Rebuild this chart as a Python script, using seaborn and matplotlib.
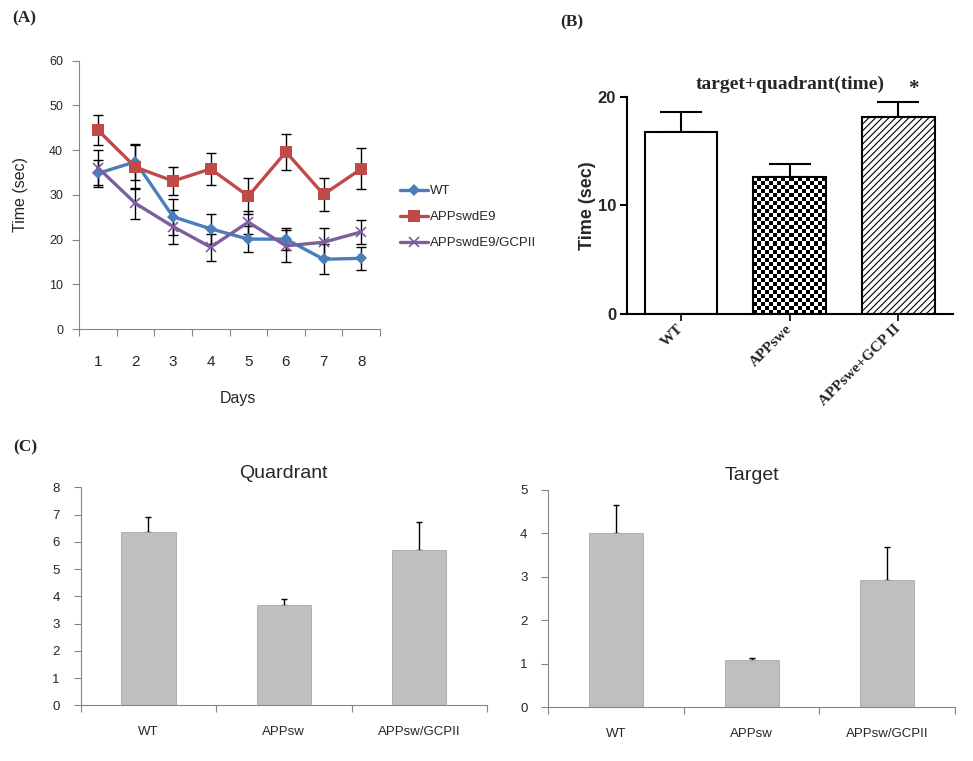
import numpy as np
import pandas as pd
import matplotlib
matplotlib.use("Agg")
import matplotlib.pyplot as plt
import seaborn as sns

# ---------------- data ----------------
days = [1, 2, 3, 4, 5, 6, 7, 8]
wt_mean = [34.8, 37.4, 25.1, 22.4, 20.1, 20.1, 15.6, 15.8]
wt_err = [3.1, 4.0, 4.0, 3.3, 2.9, 2.4, 3.4, 2.5]
app_mean = [44.5, 36.2, 33.1, 35.8, 29.7, 39.6, 30.1, 35.8]
app_err = [3.3, 5.0, 3.2, 3.5, 4.0, 4.1, 3.7, 4.6]
gcp_mean = [36.1, 28.1, 22.9, 18.3, 23.9, 18.6, 19.4, 21.7]
gcp_err = [3.9, 3.4, 3.8, 3.0, 2.6, 3.6, 3.2, 2.6]
groups_a = ["WT", "APPswdE9", "APPswdE9/GCPII"]

b_cats = ["WT", "APPswe", "APPswe+GCP II"]
b_mean = [16.8, 12.6, 18.2]
b_err = [1.8, 1.2, 1.3]

c_cats = ["WT", "APPsw", "APPsw/GCPII"]
quad_mean = [6.35, 3.68, 5.70]
quad_err = [0.55, 0.21, 1.03]
targ_mean = [4.00, 1.09, 2.92]
targ_err = [0.64, 0.05, 0.76]

# ---------------- style ----------------
sns.set_style("white")
plt.rcParams["font.family"] = ["Liberation Sans", "DejaVu Sans"]
plt.rcParams["hatch.linewidth"] = 0.8

W, H = 973, 761
fig = plt.figure(figsize=(W / 100, H / 100), dpi=100)


def px_axes(l, t, r, b):
    return fig.add_axes([l / W, 1 - b / H, (r - l) / W, (b - t) / H])


SERIF = ["Liberation Serif", "DejaVu Serif"]
GRAY = "#868686"

# ---------------- Panel A ----------------
axA = px_axes(79, 60.7, 380, 329)
series = [(groups_a[0], wt_mean, wt_err, "#4A7EBB", "D", 6, 0),
          (groups_a[1], app_mean, app_err, "#BE4B48", "s", 9, 0),
          (groups_a[2], gcp_mean, gcp_err, "#7D5FA0", "x", 7, 1.2)]
for name, m, e, col, mk, ms, mew in series:
    axA.errorbar(days, m, yerr=e, fmt="none", ecolor="black", elinewidth=1.0,
                 capsize=3.4, capthick=1.0, zorder=1)
for name, m, e, col, mk, ms, mew in series:
    df = pd.DataFrame({"day": days, "time": m})
    sns.lineplot(data=df, x="day", y="time", color=col, marker=mk,
                 markersize=ms, markeredgewidth=mew, markeredgecolor=col,
                 linewidth=2.4, label=name, ax=axA, zorder=2)
axA.set_xlim(0.5, 8.5)
axA.set_ylim(0, 60)
axA.set_yticks([0, 10, 20, 30, 40, 50, 60])
axA.set_xticks(days)
axA.set_xticklabels([str(d) for d in days])
axA.set_xticks(np.arange(0.5, 9.0, 1.0), minor=True)
axA.tick_params(axis="x", which="major", length=0, pad=19, labelsize=11)
axA.tick_params(axis="x", which="minor", length=5, width=0.8, color=GRAY,
                direction="out", bottom=True)
axA.tick_params(axis="y", length=5, width=0.8, color=GRAY, direction="out",
                pad=6.5, labelsize=9, left=True)
for s in ["top", "right"]:
    axA.spines[s].set_visible(False)
for s in ["left", "bottom"]:
    axA.spines[s].set_color(GRAY)
    axA.spines[s].set_linewidth(0.8)
axA.set_xlabel("Days", fontsize=11.5)
axA.xaxis.set_label_coords(0.528, -0.23)
axA.set_ylabel("Time (sec)", fontsize=11.5)
axA.yaxis.set_label_coords(-0.17, 0.5)
h, l = axA.get_legend_handles_labels()
axA.legend(h, l, loc="upper left", bbox_to_anchor=(400 / W, 1 - 185 / H),
           bbox_transform=fig.transFigure, frameon=False, fontsize=9.5,
           handlelength=2.1, handletextpad=0.15, labelspacing=1.05,
           borderpad=0, borderaxespad=0)

# ---------------- Panel B ----------------
axB = px_axes(626.7, 97, 952.7, 314)
axB.errorbar([0, 1, 2], b_mean, yerr=[[0, 0, 0], b_err], fmt="none",
             ecolor="black", elinewidth=1.5, capsize=15, capthick=1.5, zorder=1)
sns.barplot(x=b_cats, y=b_mean, order=b_cats, color="white", saturation=1,
            edgecolor="black", linewidth=1.5, width=0.67, errorbar=None,
            ax=axB, zorder=2)
axB.set_xlim(-0.5, 2.5)
axB.set_ylim(0, 20)
# diagonal hatch
axB.patches[2].set_hatch("/////")
# checkerboard on middle bar
pb = axB.patches[1]
fig.canvas.draw()
x0, w, hgt = pb.get_x(), pb.get_width(), pb.get_height()
p0 = axB.transData.transform((x0, 0))
p1 = axB.transData.transform((x0 + w, hgt))
nx = max(1, int(round((p1[0] - p0[0]) / 4.0)))
ny = max(1, int(round((p1[1] - p0[1]) / 4.0)))
checker = (np.add.outer(np.arange(ny), np.arange(nx)) % 2).astype(float)
pb.set_facecolor("none")
pb.set_zorder(3)
im = axB.imshow(checker, extent=[x0, x0 + w, 0, hgt], cmap="gray", vmin=0,
                vmax=1, interpolation="nearest", aspect="auto", zorder=2.5,
                origin="lower")
im.set_clip_path(pb)
axB.set_xlim(-0.5, 2.5)
axB.set_ylim(0, 20)
axB.set_yticks([0, 10, 20])
axB.set_yticklabels(["0", "10", "20"], fontweight="bold", fontsize=12)
axB.set_xticks([0, 1, 2])
axB.set_xticklabels(b_cats, rotation=45, ha="right", va="center",
                    rotation_mode="anchor", fontfamily=SERIF,
                    fontweight="bold", fontsize=11)
axB.tick_params(axis="x", length=5, width=1.2, color="black", direction="out",
                pad=4, bottom=True)
axB.tick_params(axis="y", length=5, width=1.5, color="black", direction="out",
                pad=2.7, left=True)
for s in ["top", "right"]:
    axB.spines[s].set_visible(False)
for s in ["left", "bottom"]:
    axB.spines[s].set_color("black")
    axB.spines[s].set_linewidth(1.5)
axB.set_xlabel("")
axB.set_ylabel("Time (sec)", fontweight="bold", fontsize=13)
axB.yaxis.set_label_coords(-0.095, 0.5)
axB.set_title("target+quadrant(time)", fontfamily=SERIF, fontweight="bold",
              fontsize=14, pad=6)
fig.text(913 / W, 1 - 94 / H, "*", fontfamily=SERIF, fontweight="bold",
         fontsize=15, ha="center", va="baseline")


# ---------------- Panel C ----------------
def panel_c(ax, title, mean, err, ymax):
    ax.errorbar([0, 1, 2], mean, yerr=[[0, 0, 0], err], fmt="none",
                ecolor="black", elinewidth=1.0, capsize=2.5, capthick=1.0,
                zorder=1)
    sns.barplot(x=c_cats, y=mean, order=c_cats, color="#BFBFBF", saturation=1,
                edgecolor="#A8A8A8", linewidth=0.6, width=0.4, errorbar=None,
                ax=ax, zorder=2)
    ax.set_xlim(-0.5, 2.5)
    ax.set_ylim(0, ymax)
    ax.set_yticks(list(range(0, ymax + 1)))
    ax.set_xticks([0, 1, 2])
    ax.set_xticklabels(c_cats)
    ax.set_xticks([-0.5, 0.5, 1.5, 2.5], minor=True)
    ax.tick_params(axis="x", which="major", length=0, pad=15, labelsize=9.5)
    ax.tick_params(axis="x", which="minor", length=5, width=0.8, color=GRAY,
                   direction="out", bottom=True)
    ax.tick_params(axis="y", length=5, width=0.8, color=GRAY, direction="out",
                   pad=10, labelsize=9.5, left=True)
    for s in ["top", "right"]:
        ax.spines[s].set_visible(False)
    for s in ["left", "bottom"]:
        ax.spines[s].set_color(GRAY)
        ax.spines[s].set_linewidth(0.8)
    ax.set_xlabel("")
    ax.set_ylabel("")
    ax.set_title(title, fontsize=14, pad=7)


axC1 = px_axes(80.7, 487.3, 487, 705.3)
panel_c(axC1, "Quardrant", quad_mean, quad_err, 8)
axC2 = px_axes(548.3, 489.7, 955, 707.3)
panel_c(axC2, "Target", targ_mean, targ_err, 5)

# ---------------- panel letters ----------------
for txt, x, y in [("(A)", 12, 18), ("(B)", 560, 22), ("(C)", 13, 447)]:
    fig.text(x / W, 1 - y / H, txt, fontfamily=SERIF, fontweight="bold",
             fontsize=12.5, ha="left", va="center")

fig.savefig("out.png", dpi=100)
